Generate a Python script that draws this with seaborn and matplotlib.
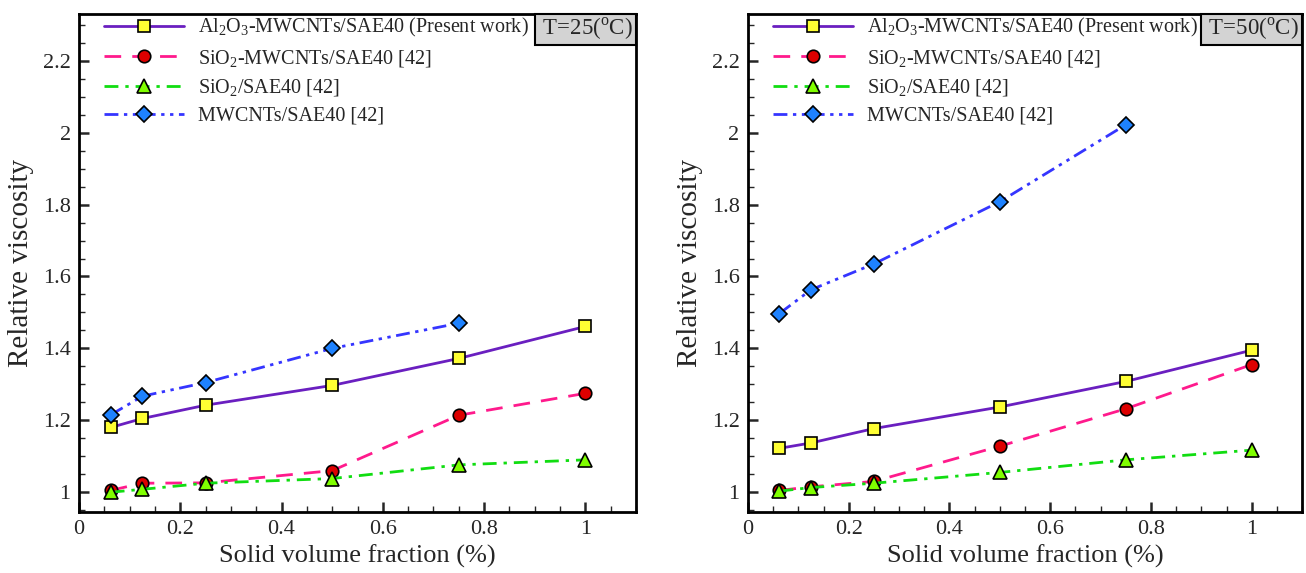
import numpy as np
import pandas as pd
import matplotlib
matplotlib.use("Agg")
import matplotlib.pyplot as plt
import seaborn as sns
from matplotlib.offsetbox import AnchoredText
from matplotlib.ticker import MultipleLocator

# ---------------- data ----------------
phi = [0.0625, 0.125, 0.25, 0.5, 0.75, 1.0]
phi_mw = [0.0625, 0.125, 0.25, 0.5, 0.75]

al_mw_25 = [1.18, 1.205, 1.242, 1.297, 1.372, 1.461]
sio2_mw_25 = [1.005, 1.025, 1.026, 1.06, 1.214, 1.275]
sio2_25 = [1.0, 1.008, 1.025, 1.038, 1.076, 1.09]
mw_25 = [1.215, 1.267, 1.305, 1.40, 1.47]

al_mw_50 = [1.122, 1.137, 1.177, 1.237, 1.308, 1.395]
sio2_mw_50 = [1.005, 1.015, 1.03, 1.128, 1.232, 1.355]
sio2_50 = [1.003, 1.013, 1.025, 1.055, 1.09, 1.117]
mw_50 = [1.497, 1.563, 1.635, 1.808, 2.022]

labels = [r"Al$_\mathregular{2}$O$_\mathregular{3}$-MWCNTs/SAE40 (Present work)",
          r"SiO$_\mathregular{2}$-MWCNTs/SAE40 [42]",
          r"SiO$_\mathregular{2}$/SAE40 [42]",
          "MWCNTs/SAE40 [42]"]
temps = [r"T=25($^\mathregular{o}$C)", r"T=50($^\mathregular{o}$C)"]

sns.set_style("ticks")
plt.rcParams["font.family"] = ["Liberation Serif", "DejaVu Serif"]
plt.rcParams["mathtext.fontset"] = "custom"
plt.rcParams["mathtext.rm"] = "Liberation Serif"

line_colors = ["#6a1fc0", "#ff1a8c", "#11dd11", "#3535ff"]
marker_faces = ["#ffff33", "#dd0000", "#80ff00", "#1e82ff"]
markers = ["s", "o", "^", "D"]
msizes = [8, 9, 10, 8]
lstyles = ["-", (0, (6, 4)), (0, (5, 2.5, 1.2, 2.5)), (0, (5, 2, 1.2, 2, 1.2, 2))]

fig = plt.figure(figsize=(13.06, 5.73), dpi=100)
ax1 = fig.add_axes([0.0605, 0.1065, 0.4265, 0.869])
ax2 = fig.add_axes([0.5727, 0.1065, 0.4243, 0.869])

panels = [
    (ax1, [(phi, al_mw_25), (phi, sio2_mw_25), (phi, sio2_25), (phi_mw, mw_25)], temps[0]),
    (ax2, [(phi, al_mw_50), (phi, sio2_mw_50), (phi, sio2_50), (phi_mw, mw_50)], temps[1]),
]

for ax, series, ttl in panels:
    for i, (xs, ys) in enumerate(series):
        sns.lineplot(x=xs, y=ys, ax=ax, color=line_colors[i], lw=2.0,
                     linestyle=lstyles[i], marker=markers[i], markersize=msizes[i],
                     markerfacecolor=marker_faces[i], markeredgecolor="k",
                     markeredgewidth=1.2, label=labels[i])
    ax.set_xlim(0, 1.1)
    ax.set_ylim(0.945, 2.33)
    ax.xaxis.set_major_locator(MultipleLocator(0.2))
    ax.xaxis.set_minor_locator(MultipleLocator(0.05))
    ax.yaxis.set_major_locator(MultipleLocator(0.2))
    ax.yaxis.set_minor_locator(MultipleLocator(0.05))
    ax.xaxis.set_major_formatter(plt.FuncFormatter(lambda v, p: f"{v:g}"))
    ax.yaxis.set_major_formatter(plt.FuncFormatter(lambda v, p: f"{v:g}"))
    ax.tick_params(which="major", direction="in", length=7, width=1.8, labelsize=16, pad=6)
    ax.tick_params(which="minor", direction="in", length=4, width=1.0)
    for s in ax.spines.values():
        s.set_linewidth(2)
        s.set_color("k")
    ax.set_xlabel("Solid volume fraction (%)", fontsize=19)
    ax.set_ylabel("Relative viscosity", fontsize=21, labelpad=6)
    leg = ax.legend(loc="upper left", bbox_to_anchor=(0.03, 1.012), frameon=False,
                    fontsize=14.5, handlelength=4.0, handletextpad=0.7, labelspacing=0.42,
                    borderaxespad=0)
    at = AnchoredText(" " + ttl + " ", loc="upper right", pad=0.1, borderpad=0,
                      prop=dict(size=16.5), frameon=True)
    at.patch.set_facecolor("#d3d3d3")
    at.patch.set_edgecolor("k")
    at.patch.set_linewidth(1.5)
    at.patch.set_boxstyle("square,pad=0")
    ax.add_artist(at)

fig.savefig("out.png", dpi=100)
